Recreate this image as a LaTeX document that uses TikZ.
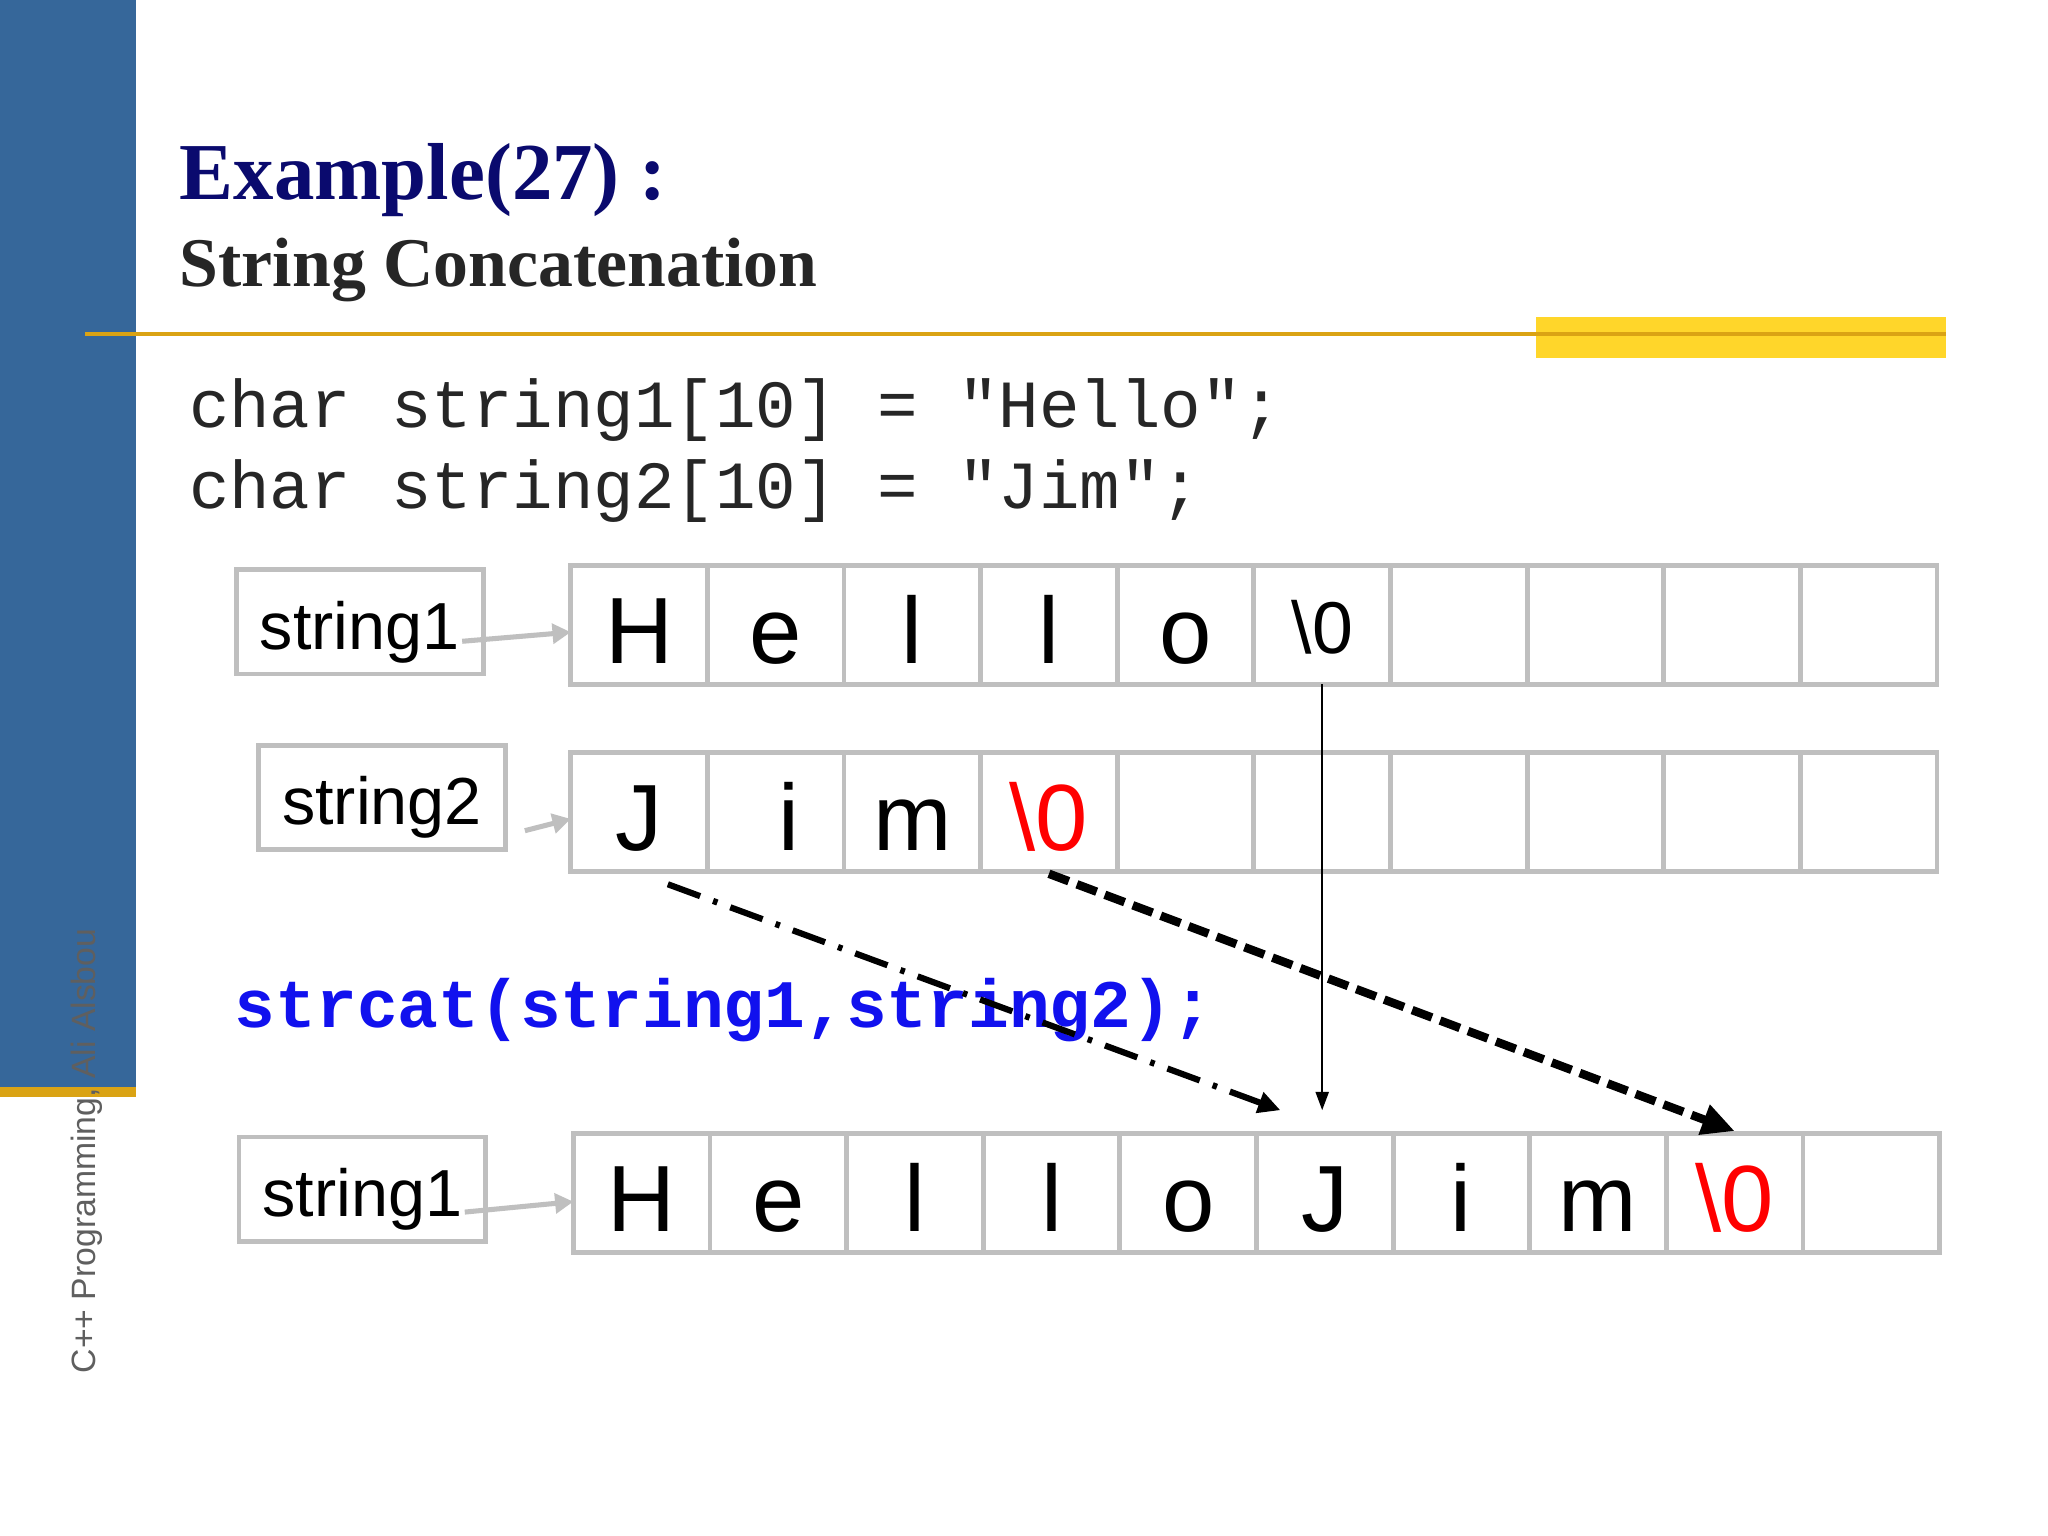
\documentclass[tikz,border=0pt]{standalone}
\usepackage{fontspec}
\setmainfont{Liberation Sans}
\setmonofont{Liberation Mono}
\newfontfamily\titlefont{Liberation Serif}
\usepackage{tikz}
\usetikzlibrary{arrows.meta}
\usetikzlibrary{positioning}

\definecolor{sideblue}{RGB}{54,103,154}
\definecolor{goldline}{RGB}{218,163,20}
\definecolor{baryellow}{RGB}{255,214,42}
\definecolor{titlenavy}{RGB}{10,10,110}
\definecolor{subgray}{RGB}{38,38,38}
\definecolor{cellgray}{RGB}{191,191,191}
\definecolor{codeblue}{RGB}{17,17,238}
\definecolor{footgray}{RGB}{95,95,95}

\tikzset{
    cell/.style={draw=cellgray, line width=1.05pt, minimum width=1.046cm, minimum height=0.91cm,
        inner sep=0pt, outer sep=0pt, font=\fontsize{20.5}{24}\selectfont, text height=0.6cm, text depth=0.01cm},
    namebox/.style={draw=cellgray, line width=1.05pt, minimum width=1.89cm, minimum height=0.8cm,
        inner sep=0pt, font=\fontsize{14.5}{17}\selectfont, text height=0.44cm, text depth=0.02cm},
    plain/.style={anchor=base west, inner sep=0pt},
    ptrarrow/.style={cellgray, line width=1.1pt, -{Triangle[length=1.4mm,width=1.5mm]}},
    copyline/.style={black, line width=0.45pt, -{Triangle[length=1.4mm,width=1mm]}},
    dashdotarrow/.style={black, line width=1.35pt, dash pattern=on 7.5pt off 3pt on 1pt off 3pt,
        -{Triangle[length=1.7mm,width=1.6mm]}},
    dashedarrow/.style={black, line width=1.85pt, dash pattern=on 4.6pt off 1.9pt,
        -{Triangle[length=2.5mm,width=2.3mm]}}
}

\begin{document}
\begin{tikzpicture}
    \useasboundingbox[fill=white] (0,0) rectangle (15.68,-11.76);

    % Slide frame
    \fill[sideblue] (0,0) rectangle (1.04,-8.32);
    \fill[goldline] (0,-8.32) rectangle (1.04,-8.40);
    \fill[baryellow] (11.76,-2.43) rectangle (14.90,-2.74);
    \draw[goldline, line width=0.9pt] (0.65,-2.56) -- (14.90,-2.56);
    \node[plain, rotate=90, font=\fontsize{7.35}{9}\selectfont, text=footgray] (footer) at (0.73,-10.52) {C++ Programming, Ali Alsbou};

    % Title
    \node[plain, font=\titlefont\bfseries\fontsize{17.6}{21}\selectfont, text=titlenavy] (title) at (1.37,-1.53) {Example(27) :};
    \node[plain, font=\titlefont\bfseries\fontsize{15.2}{18}\selectfont, text=subgray] (subtitle) at (1.37,-2.19) {String Concatenation};

    % Declarations
    \node[plain, font=\ttfamily\fontsize{14.7}{17}\selectfont, text=subgray] (decl1) at (1.44,-3.27) {char string1[10] = "Hello";};
    \node[plain, font=\ttfamily\fontsize{14.7}{17}\selectfont, text=subgray] (decl2) at (1.44,-3.89) {char string2[10] = "Jim";};

    % string1 before
    \node[namebox] (s1) at (2.755,-4.76) {string1};
    \node[cell] (a0) at (4.893,-4.785) {H};
    \node[cell] (a1) at (5.939,-4.785) {e};
    \node[cell] (a2) at (6.985,-4.785) {l};
    \node[cell] (a3) at (8.031,-4.785) {l};
    \node[cell] (a4) at (9.077,-4.785) {o};
    \node[cell, font=\fontsize{16}{19}\selectfont, text height=0.44cm] (a5) at (10.123,-4.785) {\textbackslash0};
    \node[cell] (a6) at (11.169,-4.785) {};
    \node[cell] (a7) at (12.215,-4.785) {};
    \node[cell] (a8) at (13.261,-4.785) {};
    \node[cell] (a9) at (14.307,-4.785) {};

    % string2
    \node[namebox] (s2) at (2.925,-6.105) {string2};
    \node[cell] (b0) at (4.893,-6.215) {J};
    \node[cell] (b1) at (5.939,-6.215) {\hspace{0.2cm}i};
    \node[cell] (b2) at (6.985,-6.215) {m};
    \node[cell, text=red] (b3) at (8.031,-6.215) {\textbackslash0};
    \node[cell] (b4) at (9.077,-6.215) {};
    \node[cell] (b5) at (10.123,-6.215) {};
    \node[cell] (b6) at (11.169,-6.215) {};
    \node[cell] (b7) at (12.215,-6.215) {};
    \node[cell] (b8) at (13.261,-6.215) {};
    \node[cell] (b9) at (14.307,-6.215) {};

    % The call
    \node[plain, font=\ttfamily\bfseries\fontsize{14.8}{17}\selectfont, text=codeblue] (call) at (1.79,-7.87) {strcat(string1,string2);};

    % string1 after
    \node[namebox] (s3) at (2.775,-9.105) {string1};
    \node[cell] (c0) at (4.913,-9.135) {H};
    \node[cell] (c1) at (5.959,-9.135) {e};
    \node[cell] (c2) at (7.005,-9.135) {l};
    \node[cell] (c3) at (8.051,-9.135) {l};
    \node[cell] (c4) at (9.097,-9.135) {o};
    \node[cell] (c5) at (10.143,-9.135) {J};
    \node[cell] (c6) at (11.189,-9.135) {i};
    \node[cell] (c7) at (12.235,-9.135) {m};
    \node[cell, text=red] (c8) at (13.281,-9.135) {\textbackslash0};
    \node[cell] (c9) at (14.327,-9.135) {};

    % Pointers
    \draw[ptrarrow] ([xshift=-0.18cm,yshift=-0.15cm]s1.east) -- ([yshift=-0.055cm]a0.west);
    \draw[ptrarrow] ([xshift=0.13cm,yshift=-0.255cm]s2.east) -- ([yshift=-0.055cm]b0.west);
    \draw[ptrarrow] ([xshift=-0.18cm,yshift=-0.175cm]s3.east) -- ([yshift=-0.065cm]c0.west);

    % Copying
    \draw[copyline, shorten >=0.18cm] (a5.south) -- (a5.south |- c5.north);
    \draw[dashdotarrow] ([xshift=0.22cm,yshift=-0.1cm]b0.south) -- ([xshift=-0.34cm,yshift=0.18cm]c5.north);
    \draw[dashedarrow] ([yshift=-0.02cm]b3.south) -- ([yshift=0.02cm]c8.north);

\end{tikzpicture}
\end{document}
